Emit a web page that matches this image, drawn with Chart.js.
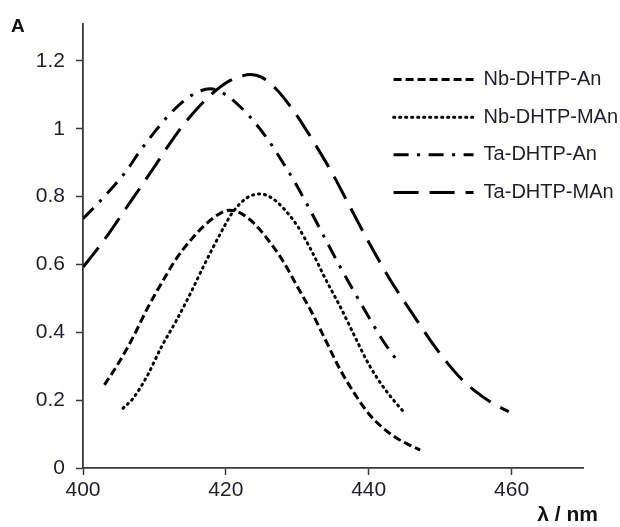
<!DOCTYPE html>
<html>
<head>
<meta charset="utf-8">
<script src="https://cdn.jsdelivr.net/npm/chart.js@4.4.1/dist/chart.umd.min.js"></script>
<style>
  html, body { margin: 0; padding: 0; background: #fff; }
  #wrap { width: 620px; height: 527px; }
</style>
</head>
<body>
<div id="wrap"><canvas id="c" width="620" height="527"></canvas></div>
<script>
// ---- data ----
const seriesNames = ['Nb-DHTP-An', 'Nb-DHTP-MAn', 'Ta-DHTP-An', 'Ta-DHTP-MAn'];

const nbAnX = [403, 405, 407, 409, 411, 413, 415, 417, 419, 420.5, 422, 424, 426, 428, 430, 432, 434, 436, 438, 440, 442, 444, 446, 447.2];
const nbAnY = [0.245, 0.31, 0.385, 0.47, 0.545, 0.615, 0.67, 0.715, 0.748, 0.76, 0.752, 0.72, 0.67, 0.61, 0.535, 0.46, 0.375, 0.29, 0.22, 0.16, 0.118, 0.087, 0.065, 0.053];

const nbMAnX = [405.6, 407, 409, 411, 413, 415, 417, 419, 421, 423, 424.8, 426.5, 428, 430, 432, 434, 436, 438, 440, 442, 444, 445.1];
const nbMAnY = [0.176, 0.205, 0.272, 0.358, 0.432, 0.513, 0.60, 0.682, 0.755, 0.797, 0.808, 0.795, 0.767, 0.714, 0.64, 0.555, 0.476, 0.39, 0.306, 0.24, 0.187, 0.161];

const taAnX = [400, 402, 404, 406, 408, 410, 412, 414, 416, 417.8, 420, 422, 424, 426, 428, 430, 432, 434, 436, 438, 440, 442, 444.2];
const taAnY = [0.735, 0.778, 0.824, 0.874, 0.935, 0.99, 1.04, 1.08, 1.108, 1.118, 1.10, 1.065, 1.02, 0.965, 0.90, 0.83, 0.752, 0.672, 0.593, 0.518, 0.445, 0.375, 0.31];

const taMAnX = [400, 402, 404, 406, 408, 410, 412, 414, 416, 418, 420, 422, 423.5, 425, 427, 429, 431, 433, 435, 437, 439, 441, 443, 445, 447, 449, 451, 453, 455, 457, 459.6];
const taMAnY = [0.592, 0.645, 0.703, 0.765, 0.826, 0.888, 0.952, 1.01, 1.06, 1.102, 1.135, 1.154, 1.16, 1.152, 1.118, 1.067, 1.005, 0.937, 0.865, 0.785, 0.705, 0.628, 0.555, 0.49, 0.427, 0.365, 0.31, 0.262, 0.225, 0.195, 0.166];

const xTicks = [400, 420, 440, 460];
const yTicks = [0, 0.2, 0.4, 0.6, 0.8, 1, 1.2];

// ---- build ----
function pts(xs, ys) { return xs.map((x, i) => ({ x: x, y: ys[i] })); }

const lineStyles = [
  { dash: [8, 4], cap: 'butt' },
  { dash: [1.2, 4.8], cap: 'round' },
  { dash: [15, 8.5, 3, 8.5], cap: 'butt' },
  { dash: [25, 11], cap: 'butt' }
];
const seriesData = [pts(nbAnX, nbAnY), pts(nbMAnX, nbMAnY), pts(taAnX, taAnY), pts(taMAnX, taMAnY)];

const datasets = seriesNames.map((name, i) => ({
  label: name,
  data: seriesData[i],
  borderColor: '#000',
  backgroundColor: '#000',
  borderWidth: 3,
  borderDash: lineStyles[i].dash,
  borderCapStyle: lineStyles[i].cap,
  pointRadius: 0,
  fill: false,
  tension: 0.4,
  cubicInterpolationMode: 'monotone'
}));

const axisColor = '#3a3a3a';
const textColor = '#1e1e2e';
const tickFont = { family: "'Liberation Sans', Arial, sans-serif", size: 21 };

const extras = {
  id: 'extras',
  beforeDraw(chart) {
    const lg = chart.legend;
    if (lg) {
      lg.left = 376; lg.top = 52;
      lg.right = 620; lg.bottom = 600;
      lg.width = 244; lg.height = 548;
    }
  },
  afterDraw(chart) {
    const ctx = chart.ctx;
    ctx.save();
    ctx.fillStyle = '#111';
    ctx.font = "bold 19px 'Liberation Sans', Arial, sans-serif";
    ctx.textBaseline = 'middle';
    ctx.textAlign = 'left';
    ctx.fillText('A', 11, 27);
    ctx.font = "bold 21px 'Liberation Sans', Arial, sans-serif";
    ctx.textAlign = 'right';
    ctx.fillText('λ / nm', 598, 515);
    ctx.restore();
  }
};

new Chart(document.getElementById('c'), {
  type: 'line',
  data: { datasets: datasets },
  options: {
    responsive: false,
    animation: false,
    layout: { padding: { top: 22, right: 37, left: 0, bottom: 0 } },
    plugins: {
      tooltip: { enabled: false },
      legend: {
        position: 'chartArea',
        align: 'start',
        labels: {
          usePointStyle: true,
          pointStyle: 'line',
          pointStyleWidth: 80,
          padding: 17.6,
          color: textColor,
          font: { family: "'Liberation Sans', Arial, sans-serif", size: 20 },
          generateLabels(chart) {
            return chart.data.datasets.map((ds, i) => ({
              text: ds.label,
              datasetIndex: i,
              fillStyle: 'transparent',
              strokeStyle: ds.borderColor,
              fontColor: textColor,
              lineWidth: ds.borderWidth,
              lineDash: ds.borderDash,
              lineDashOffset: 0,
              lineCap: ds.borderCapStyle,
              lineJoin: 'miter',
              pointStyle: 'line',
              rotation: 0,
              hidden: false
            }));
          }
        }
      }
    },
    scales: {
      x: {
        type: 'linear',
        min: 400, max: 470,
        afterFit(s) { s.height = 59; },
        afterBuildTicks(s) { s.ticks = xTicks.map(v => ({ value: v })); },
        ticks: { includeBounds: false, stepSize: 20, color: textColor, font: tickFont, padding: 3, maxRotation: 0 },
        grid: { drawOnChartArea: false, drawTicks: true, tickLength: 7, tickColor: axisColor, tickWidth: 1.5, color: axisColor },
        border: { display: true, color: axisColor, width: 1.8 }
      },
      y: {
        type: 'linear',
        min: 0, max: 1.31,
        afterFit(s) { s.width = 83; },
        afterBuildTicks(s) { s.ticks = yTicks.map(v => ({ value: v })); },
        ticks: { includeBounds: false, stepSize: 0.2, color: textColor, font: tickFont, padding: 11,
          callback: (v) => String(Math.round(v * 10) / 10) },
        grid: { drawOnChartArea: false, drawTicks: true, tickLength: 7, tickColor: axisColor, tickWidth: 1.5, color: axisColor },
        border: { display: true, color: axisColor, width: 1.8 }
      }
    }
  },
  plugins: [extras]
});
</script>
</body>
</html>
